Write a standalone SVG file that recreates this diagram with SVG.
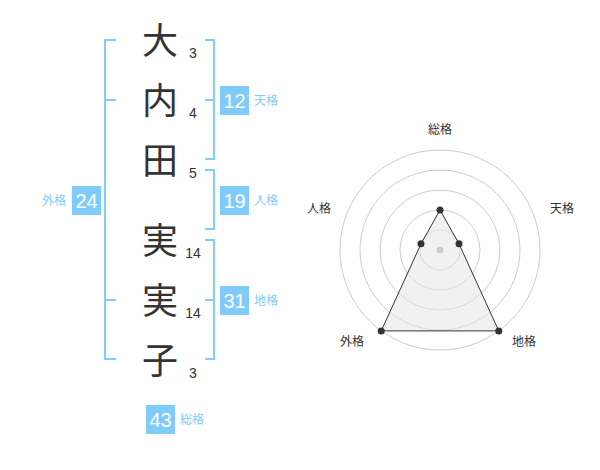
<svg xmlns="http://www.w3.org/2000/svg" width="600" height="470" viewBox="0 0 600 470">
<style>
.k{font-family:"Noto Sans CJK JP","Noto Sans CJK SC",sans-serif;font-size:36px;fill:#333;text-anchor:middle}
.n{font-family:"Liberation Sans",Arial,sans-serif;font-size:14px;fill:#333;text-anchor:middle}
.br{fill:none;stroke:#7fcdf8;stroke-width:2}
.box{fill:#7fcbf9}
.bn{font-family:"Liberation Sans",Arial,sans-serif;font-size:20px;fill:#fff;text-anchor:middle}
.bl{font-family:"Noto Sans CJK JP","Noto Sans CJK SC",sans-serif;font-size:12px;fill:#7fcdf8}
.rl{font-family:"Noto Sans CJK JP","Noto Sans CJK SC",sans-serif;font-size:12px;fill:#333;text-anchor:middle}
.ring{fill:none;stroke:#ccc;stroke-width:1}
.pt{fill:#333}
</style>
<rect width="600" height="470" fill="#fff"/>
<g id="name">
<text class="k" x="160" y="54">大</text>
<text class="k" x="160" y="114">内</text>
<text class="k" x="160" y="174">田</text>
<text class="k" x="160" y="254">実</text>
<text class="k" x="160" y="314">実</text>
<text class="k" x="160" y="374">子</text>
<text class="n" x="193" y="58">3</text>
<text class="n" x="193" y="118">4</text>
<text class="n" x="193" y="178">5</text>
<text class="n" x="193" y="258">14</text>
<text class="n" x="193" y="318">14</text>
<text class="n" x="193" y="378">3</text>
</g>
<g id="connectors">
<path class="br" d="M116,40 H105 V359 H116 M105,100 H116 M105,300 H116"/>
<path class="br" d="M205,40 H214 V159 H205 M214,100 H205"/>
<path class="br" d="M205,170 H214 V229 H205"/>
<path class="br" d="M205,240 H214 V359 H205 M214,300 H205"/>
</g>
<g id="tenkaku">
<rect class="box" x="220" y="86" width="29" height="29"/>
<text class="bn" x="234.5" y="107.5">12</text>
<text class="bl" x="254" y="105">天格</text>
</g>
<g id="jinkaku">
<rect class="box" x="220" y="186" width="29" height="29"/>
<text class="bn" x="234.5" y="207.5">19</text>
<text class="bl" x="254" y="205">人格</text>
</g>
<g id="chikaku">
<rect class="box" x="220" y="286" width="29" height="29"/>
<text class="bn" x="234.5" y="307.5">31</text>
<text class="bl" x="254" y="305">地格</text>
</g>
<g id="gaikaku">
<rect class="box" x="72" y="186" width="29" height="29"/>
<text class="bn" x="86.5" y="207.5">24</text>
<text class="bl" x="42" y="205">外格</text>
</g>
<g id="soukaku">
<rect class="box" x="146" y="405" width="29" height="29"/>
<text class="bn" x="160.5" y="426.5">43</text>
<text class="bl" x="180" y="424">総格</text>
</g>
<g id="radar">
<circle class="ring" cx="440" cy="250" r="100"/>
<circle class="ring" cx="440" cy="250" r="80"/>
<circle class="ring" cx="440" cy="250" r="60"/>
<circle class="ring" cx="440" cy="250" r="40"/>
<circle class="ring" cx="440" cy="250" r="20"/>
<polygon points="440,210 459.02,243.82 498.78,330.9 381.22,330.9 420.98,243.82" fill="#e6e6e6" fill-opacity="0.55" stroke="#333" stroke-width="1"/>
<circle cx="440" cy="250" r="3.5" fill="#ccc"/>
<circle class="pt" cx="440" cy="210" r="3.5"/>
<circle class="pt" cx="459.02" cy="243.82" r="3.5"/>
<circle class="pt" cx="498.78" cy="330.9" r="3.5"/>
<circle class="pt" cx="381.22" cy="330.9" r="3.5"/>
<circle class="pt" cx="420.98" cy="243.82" r="3.5"/>
<text class="rl" x="440" y="134">総格</text>
<text class="rl" x="562" y="213">天格</text>
<text class="rl" x="319" y="213">人格</text>
<text class="rl" x="352" y="346">外格</text>
<text class="rl" x="524" y="346">地格</text>
</g>
</svg>
